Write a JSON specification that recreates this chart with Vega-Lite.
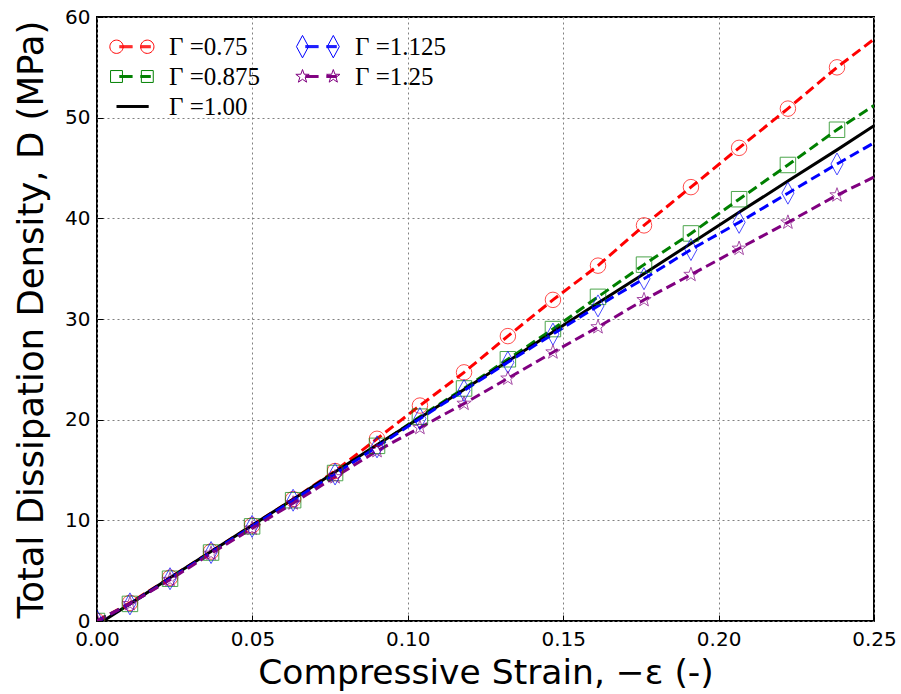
{
  "$schema": "https://vega.github.io/schema/vega-lite/v6.json",
  "width": 777,
  "height": 604,
  "autosize": {"type": "none"},
  "padding": {"left": 97, "top": 17, "right": 27, "bottom": 73},
  "background": "white",
  "config": {
    "view": {"stroke": "black", "strokeWidth": 2},
    "axis": {
      "labelFont": "DejaVu Sans", "labelFontSize": 20, "labelColor": "black", "labelFlush": false,
      "titleFont": "DejaVu Sans", "titleFontSize": 34, "titleFontWeight": "normal", "titleColor": "black",
      "domain": false, "grid": true, "gridColor": "#808080", "gridDash": [2, 3], "gridWidth": 1,
      "ticks": true, "tickSize": -6, "tickColor": "black", "tickWidth": 1, "labelPadding": 13
    }
  },
  "datasets": {
    "rows": [
      {"s": "Γ =0.75", "x": 0, "y": 0}, {"s": "Γ =0.75", "x": 0.0106, "y": 1.8}, {"s": "Γ =0.75", "x": 0.0235, "y": 4.3}, {"s": "Γ =0.75", "x": 0.0367, "y": 6.9}, {"s": "Γ =0.75", "x": 0.0499, "y": 9.5}, {"s": "Γ =0.75", "x": 0.0631, "y": 12.1}, {"s": "Γ =0.75", "x": 0.0766, "y": 14.9}, {"s": "Γ =0.75", "x": 0.0901, "y": 18.1}, {"s": "Γ =0.75", "x": 0.1039, "y": 21.4}, {"s": "Γ =0.75", "x": 0.1181, "y": 24.7}, {"s": "Γ =0.75", "x": 0.1322, "y": 28.3}, {"s": "Γ =0.75", "x": 0.1467, "y": 31.9}, {"s": "Γ =0.75", "x": 0.1612, "y": 35.3}, {"s": "Γ =0.75", "x": 0.176, "y": 39.3}, {"s": "Γ =0.75", "x": 0.1911, "y": 43.1}, {"s": "Γ =0.75", "x": 0.2066, "y": 47.0}, {"s": "Γ =0.75", "x": 0.2223, "y": 50.9}, {"s": "Γ =0.75", "x": 0.2381, "y": 55.0}, {"s": "Γ =0.75", "x": 0.25, "y": 57.8},
      {"s": "Γ =0.875", "x": 0, "y": 0}, {"s": "Γ =0.875", "x": 0.0106, "y": 1.7}, {"s": "Γ =0.875", "x": 0.0235, "y": 4.2}, {"s": "Γ =0.875", "x": 0.0367, "y": 6.8}, {"s": "Γ =0.875", "x": 0.0499, "y": 9.4}, {"s": "Γ =0.875", "x": 0.0631, "y": 12.0}, {"s": "Γ =0.875", "x": 0.0766, "y": 14.7}, {"s": "Γ =0.875", "x": 0.0901, "y": 17.4}, {"s": "Γ =0.875", "x": 0.1039, "y": 20.3}, {"s": "Γ =0.875", "x": 0.1181, "y": 23.1}, {"s": "Γ =0.875", "x": 0.1322, "y": 26.0}, {"s": "Γ =0.875", "x": 0.1467, "y": 29.0}, {"s": "Γ =0.875", "x": 0.1612, "y": 32.2}, {"s": "Γ =0.875", "x": 0.176, "y": 35.4}, {"s": "Γ =0.875", "x": 0.1911, "y": 38.5}, {"s": "Γ =0.875", "x": 0.2066, "y": 41.9}, {"s": "Γ =0.875", "x": 0.2223, "y": 45.3}, {"s": "Γ =0.875", "x": 0.2381, "y": 48.8}, {"s": "Γ =0.875", "x": 0.25, "y": 51.2},
      {"s": "Γ =1.00", "x": 0.002, "y": 0}, {"s": "Γ =1.00", "x": 0.0106, "y": 1.7}, {"s": "Γ =1.00", "x": 0.0235, "y": 4.3}, {"s": "Γ =1.00", "x": 0.0367, "y": 6.9}, {"s": "Γ =1.00", "x": 0.0499, "y": 9.5}, {"s": "Γ =1.00", "x": 0.0631, "y": 12.1}, {"s": "Γ =1.00", "x": 0.0766, "y": 14.8}, {"s": "Γ =1.00", "x": 0.0901, "y": 17.5}, {"s": "Γ =1.00", "x": 0.1039, "y": 20.2}, {"s": "Γ =1.00", "x": 0.1181, "y": 23.0}, {"s": "Γ =1.00", "x": 0.1322, "y": 25.8}, {"s": "Γ =1.00", "x": 0.1467, "y": 28.7}, {"s": "Γ =1.00", "x": 0.1612, "y": 31.6}, {"s": "Γ =1.00", "x": 0.176, "y": 34.5}, {"s": "Γ =1.00", "x": 0.1911, "y": 37.5}, {"s": "Γ =1.00", "x": 0.2066, "y": 40.6}, {"s": "Γ =1.00", "x": 0.2223, "y": 43.7}, {"s": "Γ =1.00", "x": 0.2381, "y": 46.8}, {"s": "Γ =1.00", "x": 0.25, "y": 49.2},
      {"s": "Γ =1.125", "x": 0, "y": 0}, {"s": "Γ =1.125", "x": 0.0106, "y": 1.7}, {"s": "Γ =1.125", "x": 0.0235, "y": 4.2}, {"s": "Γ =1.125", "x": 0.0367, "y": 6.8}, {"s": "Γ =1.125", "x": 0.0499, "y": 9.4}, {"s": "Γ =1.125", "x": 0.0631, "y": 12.0}, {"s": "Γ =1.125", "x": 0.0766, "y": 14.6}, {"s": "Γ =1.125", "x": 0.0901, "y": 17.3}, {"s": "Γ =1.125", "x": 0.1039, "y": 20.1}, {"s": "Γ =1.125", "x": 0.1181, "y": 22.9}, {"s": "Γ =1.125", "x": 0.1322, "y": 25.7}, {"s": "Γ =1.125", "x": 0.1467, "y": 28.5}, {"s": "Γ =1.125", "x": 0.1612, "y": 31.3}, {"s": "Γ =1.125", "x": 0.176, "y": 34.0}, {"s": "Γ =1.125", "x": 0.1911, "y": 36.9}, {"s": "Γ =1.125", "x": 0.2066, "y": 39.6}, {"s": "Γ =1.125", "x": 0.2223, "y": 42.5}, {"s": "Γ =1.125", "x": 0.2381, "y": 45.4}, {"s": "Γ =1.125", "x": 0.25, "y": 47.5},
      {"s": "Γ =1.25", "x": 0, "y": 0}, {"s": "Γ =1.25", "x": 0.0106, "y": 1.7}, {"s": "Γ =1.25", "x": 0.0235, "y": 4.1}, {"s": "Γ =1.25", "x": 0.0367, "y": 6.7}, {"s": "Γ =1.25", "x": 0.0499, "y": 9.2}, {"s": "Γ =1.25", "x": 0.0631, "y": 11.7}, {"s": "Γ =1.25", "x": 0.0766, "y": 14.3}, {"s": "Γ =1.25", "x": 0.0901, "y": 16.9}, {"s": "Γ =1.25", "x": 0.1039, "y": 19.2}, {"s": "Γ =1.25", "x": 0.1181, "y": 21.6}, {"s": "Γ =1.25", "x": 0.1322, "y": 24.1}, {"s": "Γ =1.25", "x": 0.1467, "y": 26.7}, {"s": "Γ =1.25", "x": 0.1612, "y": 29.2}, {"s": "Γ =1.25", "x": 0.176, "y": 31.9}, {"s": "Γ =1.25", "x": 0.1911, "y": 34.4}, {"s": "Γ =1.25", "x": 0.2066, "y": 37.0}, {"s": "Γ =1.25", "x": 0.2223, "y": 39.6}, {"s": "Γ =1.25", "x": 0.2381, "y": 42.3}, {"s": "Γ =1.25", "x": 0.25, "y": 44.1}
    ]
  },
  "data": {"name": "rows"},
  "encoding": {
    "x": {"field": "x", "type": "quantitative", "scale": {"domain": [0, 0.25], "nice": false, "zero": false, "padding": 0},
      "axis": {"values": [0, 0.05, 0.1, 0.15, 0.2, 0.25], "format": ".2f", "title": "Compressive Strain, −ε (-)", "titlePadding": 7, "titleFontSize": 34.5, "labelPadding": 14}},
    "y": {"field": "y", "type": "quantitative", "scale": {"domain": [0, 60], "nice": false, "padding": 0},
      "axis": {"values": [0, 10, 20, 30, 40, 50, 60], "format": "d", "title": "Total Dissipation Density, D (MPa)", "titlePadding": 15, "titleFontSize": 35.5}}
  },
  "layer": [
    {
      "transform": [{"filter": "datum.s == 'Γ =0.75' || datum.s == 'Γ =0.875'"}],
      "mark": {"type": "line", "strokeWidth": 3, "strokeDash": [10, 5], "clip": true},
      "encoding": {
        "color": {"field": "s", "type": "nominal",
          "scale": {"domain": ["Γ =0.75", "Γ =0.875", "Γ =1.00", "Γ =1.125", "Γ =1.25"], "range": ["#ff0000", "#008000", "#000000", "#0000ff", "#800080"]}}
      }
    },
    {
      "transform": [{"filter": "datum.s == 'Γ =1.00'"}],
      "mark": {"type": "line", "strokeWidth": 3, "clip": true},
      "encoding": {"color": {"field": "s", "type": "nominal"}}
    },
    {
      "transform": [{"filter": "datum.s == 'Γ =1.125' || datum.s == 'Γ =1.25'"}],
      "mark": {"type": "line", "strokeWidth": 3, "strokeDash": [10, 5], "clip": true},
      "encoding": {"color": {"field": "s", "type": "nominal"}}
    },
    {
      "transform": [{"filter": "datum.s == 'Γ =0.75' && datum.x < 0.245"}],
      "mark": {"type": "point", "shape": "circle", "size": 240, "filled": false, "color": "#ff0000", "strokeWidth": 1, "clip": true}
    },
    {
      "transform": [{"filter": "datum.s == 'Γ =0.875' && datum.x < 0.245"}],
      "mark": {"type": "point", "shape": "square", "size": 240, "filled": false, "color": "#008000", "strokeWidth": 1, "clip": true}
    },
    {
      "transform": [{"filter": "datum.s == 'Γ =1.125' && datum.x < 0.245"}],
      "mark": {"type": "point", "shape": "M0,-1L0.55,0L0,1L-0.55,0Z", "size": 484, "filled": false, "color": "#0000ff", "strokeWidth": 1, "clip": true}
    },
    {
      "transform": [{"filter": "datum.s == 'Γ =1.25' && datum.x < 0.245"}],
      "mark": {"type": "point", "shape": "M0,-1L0.235,-0.324L0.951,-0.309L0.38,0.124L0.588,0.809L0,0.4L-0.588,0.809L-0.38,0.124L-0.951,-0.309L-0.235,-0.324Z", "size": 225, "filled": false, "color": "#800080", "strokeWidth": 1, "clip": true}
    },
    {
      "mark": {"type": "point", "filled": false, "strokeWidth": 1, "opacity": 0},
      "encoding": {
        "color": {"field": "s", "type": "nominal",
          "legend": {"orient": "none", "legendX": 7, "legendY": 17, "columns": 2, "columnPadding": 29, "rowPadding": 4, "symbolSize": 196, "symbolStrokeWidth": 1, "symbolOpacity": 1, "labelFont": "Liberation Serif", "labelFontSize": 25, "labelColor": "black", "labelOffset": 40, "title": null, "padding": 0}},
        "shape": {"field": "s", "type": "nominal",
          "scale": {"domain": ["Γ =0.75", "Γ =0.875", "Γ =1.00", "Γ =1.125", "Γ =1.25"],
            "range": [
              "M0.95,0A0.95,0.95,0,1,1,-0.95,0A0.95,0.95,0,1,1,0.95,0M5.35,0A0.95,0.95,0,1,1,3.45,0A0.95,0.95,0,1,1,5.35,0M0.4,-0.14L2.3,-0.14M0.4,0L2.3,0M0.4,0.14L2.3,0.14M3.4,-0.14L4.9,-0.14M3.4,0L4.9,0M3.4,0.14L4.9,0.14",
              "M-0.85,-0.85L0.85,-0.85L0.85,0.85L-0.85,0.85ZM3.55,-0.85L5.25,-0.85L5.25,0.85L3.55,0.85ZM0.4,-0.14L2.3,-0.14M0.4,0L2.3,0M0.4,0.14L2.3,0.14M3.4,-0.14L4.9,-0.14M3.4,0L4.9,0M3.4,0.14L4.9,0.14",
              "M0,-0.14L4.6,-0.14M0,0L4.6,0M0,0.14L4.6,0.14",
              "M0,-1.6L0.86,0L0,1.6L-0.86,0ZM4.4,-1.6L5.26,0L4.4,1.6L3.54,0ZM0.4,-0.14L2.3,-0.14M0.4,0L2.3,0M0.4,0.14L2.3,0.14M3.4,-0.14L4.9,-0.14M3.4,0L4.9,0M3.4,0.14L4.9,0.14",
              "M0,-1L0.235,-0.324L0.951,-0.309L0.38,0.124L0.588,0.809L0,0.4L-0.588,0.809L-0.38,0.124L-0.951,-0.309L-0.235,-0.324ZM4.4,-1L4.635,-0.324L5.351,-0.309L4.78,0.124L4.988,0.809L4.4,0.4L3.812,0.809L4.02,0.124L3.449,-0.309L4.165,-0.324ZM0.4,-0.14L2.3,-0.14M0.4,0L2.3,0M0.4,0.14L2.3,0.14M3.4,-0.14L4.9,-0.14M3.4,0L4.9,0M3.4,0.14L4.9,0.14"
            ]},
          "legend": {"orient": "none", "legendX": 7, "legendY": 17, "columns": 2, "columnPadding": 29, "rowPadding": 4, "symbolSize": 196, "symbolStrokeWidth": 1, "symbolOpacity": 1, "labelFont": "Liberation Serif", "labelFontSize": 25, "labelColor": "black", "labelOffset": 40, "title": null, "padding": 0}}
      }
    }
  ]
}
